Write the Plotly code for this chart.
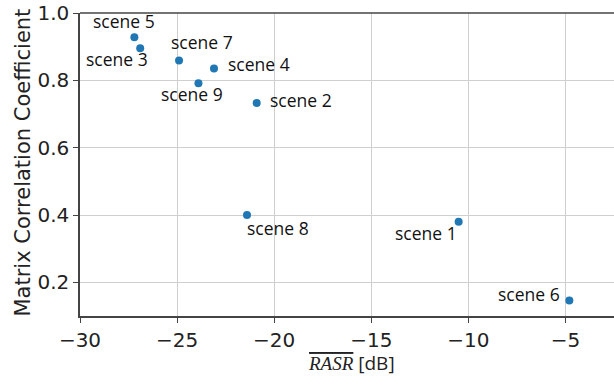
import plotly.graph_objects as go

# scene labels and values
scenes = ["scene 1", "scene 2", "scene 3", "scene 4", "scene 5",
          "scene 6", "scene 7", "scene 8", "scene 9"]
rasr_db = [-10.5, -20.9, -26.9, -23.1, -27.2, -4.8, -24.9, -21.4, -23.9]
corr = [0.38, 0.733, 0.895, 0.835, 0.928, 0.146, 0.859, 0.400, 0.791]

x_ticks = [-30, -25, -20, -15, -10, -5]
y_ticks = [0.2, 0.4, 0.6, 0.8, 1.0]

# label offsets in pixels (dx, dy), dy positive = upward
label_offsets = {
    "scene 1": (-33, -11),
    "scene 2": (44, 3),
    "scene 3": (-23, -11),
    "scene 4": (45, 5),
    "scene 5": (-10, 16),
    "scene 6": (-40, 7),
    "scene 7": (23, 18),
    "scene 8": (31, -13),
    "scene 9": (-6, -11),
}

fig = go.Figure()
fig.add_trace(go.Scatter(
    x=rasr_db, y=corr, mode="markers",
    marker=dict(color="#1f77b4", size=8),
    showlegend=False,
))

for name, xv, yv in zip(scenes, rasr_db, corr):
    dx, dy = label_offsets[name]
    fig.add_annotation(
        x=xv, y=yv, text=name, showarrow=False,
        xshift=dx, yshift=dy,
        font=dict(family="Open Sans", size=17.5, color="#111111"),
    )

axis_common = dict(
    showgrid=True, gridcolor="#cfcfcf", gridwidth=1,
    showline=True, linecolor="#444444", linewidth=1.5,
    ticks="outside", ticklen=5, tickcolor="#444444",
    tickfont=dict(family="DejaVu Sans", size=20, color="#222222"),
    zeroline=False, automargin=False,
)

fig.update_xaxes(
    range=[-30, -2.5], tickvals=x_ticks,
    ticktext=[f"\u2212{abs(v)}" for v in x_ticks],
    **axis_common,
)
fig.update_yaxes(
    range=[0.1, 1.0], tickvals=y_ticks,
    ticktext=[f"{v:.1f}" for v in y_ticks],
    **axis_common,
)

# axis titles placed as annotations so the margins stay fixed
fig.add_annotation(
    xref="paper", yref="paper", x=0.5, y=-0.155, xanchor="center", yanchor="middle",
    text="<i><span style='font-family:Liberation Serif;text-decoration:overline'>RASR</span></i>"
         " <span style='font-family:Open Sans'>[dB]</span>",
    showarrow=False, font=dict(family="Open Sans", size=19, color="#222222"),
    xshift=4,
)
fig.add_annotation(
    xref="paper", yref="paper", x=0, y=0.5, xanchor="center", yanchor="middle",
    text="Matrix Correlation Coefficient", textangle=-90,
    showarrow=False, font=dict(family="DejaVu Sans", size=21, color="#222222"),
    xshift=-58, yshift=2,
)

fig.add_shape(type="line", xref="paper", yref="paper",
              x0=0, x1=1, y0=1, y1=1,
              line=dict(color="#444444", width=1.5))

fig.update_layout(
    width=614, height=376,
    margin=dict(l=80, r=0, t=13, b=60),
    plot_bgcolor="white", paper_bgcolor="white",
)

# drop the page's default body margin so the figure sits at the window corner
fig.write_html("out.html", config={"displayModeBar": False},
               post_script="document.body.style.margin='0';")
